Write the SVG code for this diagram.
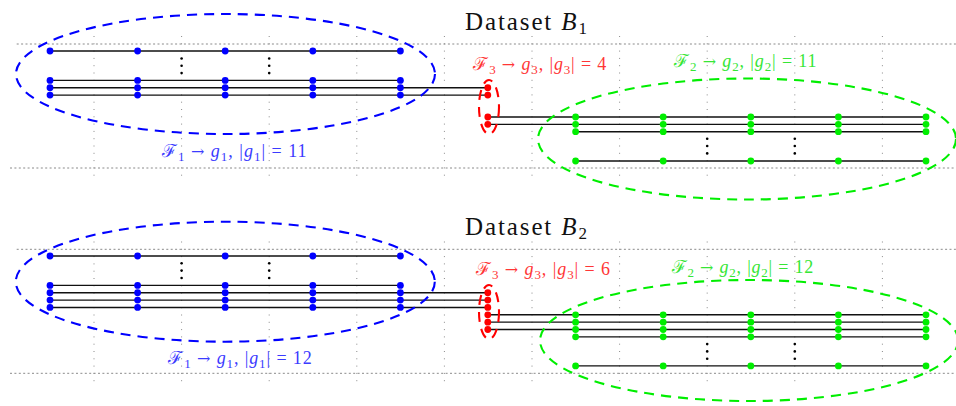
<svg xmlns="http://www.w3.org/2000/svg" width="956" height="406" viewBox="0 0 956 406">
<style>
.hg{stroke:#8a8a8a;stroke-width:1;stroke-dasharray:2 2.4;fill:none}
.vg{stroke:#8a8a8a;stroke-width:1;stroke-dasharray:1 6.3;fill:none}
.ln{stroke:#111;stroke-width:1.4;fill:none}
.el{fill:none;stroke-width:2.1;stroke-dasharray:10 7}
.b{fill:#0000ff}.r{fill:#ff0000}.g{fill:#00ee00}
.eb{stroke:#0000ff}.er{stroke:#ff0000}.eg{stroke:#00ee00}
.dt{fill:#000}
.ttl{font-family:"Liberation Serif","DejaVu Serif",serif;font-size:25px;fill:#111}
.m{font-family:"Liberation Serif","DejaVu Serif",serif;font-size:18px}
.ar{font-family:"DejaVu Serif",serif;font-size:16px}
.it{font-style:italic}
.sb{font-size:13px}
.tb{fill:#3b3bff}.tr{fill:#ff3636}.tg{fill:#36e636}
</style>
<defs>
<circle id="nd" r="3.4"/>
<circle id="sd" r="1.3"/>
</defs>

<g id="grid">
<line class="hg" x1="16.7" y1="44" x2="956" y2="44"/>
<line class="hg" x1="10" y1="168" x2="956" y2="168"/>
<line class="hg" x1="16.7" y1="249.3" x2="956" y2="249.3"/>
<line class="hg" x1="10" y1="373.3" x2="956" y2="373.3"/>
<g id="vgrid-top">
<line class="vg" x1="94" y1="36" x2="94" y2="179"/>
<line class="vg" x1="181.6" y1="36" x2="181.6" y2="179"/>
<line class="vg" x1="269.2" y1="36" x2="269.2" y2="179"/>
<line class="vg" x1="356.8" y1="36" x2="356.8" y2="179"/>
<line class="vg" x1="444.4" y1="36" x2="444.4" y2="179"/>
<line class="vg" x1="532" y1="36" x2="532" y2="179"/>
<line class="vg" x1="619.6" y1="36" x2="619.6" y2="179"/>
<line class="vg" x1="707.2" y1="36" x2="707.2" y2="179"/>
<line class="vg" x1="794.8" y1="36" x2="794.8" y2="179"/>
<line class="vg" x1="882.4" y1="36" x2="882.4" y2="179"/>
</g>
<g id="vgrid-bot">
<line class="vg" x1="94" y1="241.5" x2="94" y2="384"/>
<line class="vg" x1="181.6" y1="241.5" x2="181.6" y2="384"/>
<line class="vg" x1="269.2" y1="241.5" x2="269.2" y2="384"/>
<line class="vg" x1="356.8" y1="241.5" x2="356.8" y2="384"/>
<line class="vg" x1="444.4" y1="241.5" x2="444.4" y2="384"/>
<line class="vg" x1="532" y1="241.5" x2="532" y2="384"/>
<line class="vg" x1="619.6" y1="241.5" x2="619.6" y2="384"/>
<line class="vg" x1="707.2" y1="241.5" x2="707.2" y2="384"/>
<line class="vg" x1="794.8" y1="241.5" x2="794.8" y2="384"/>
<line class="vg" x1="882.4" y1="241.5" x2="882.4" y2="384"/>
</g>
</g>

<g id="connectors">
<line class="ln" x1="50" y1="51" x2="400.4" y2="51"/>
<line class="ln" x1="50" y1="80.4" x2="400.4" y2="80.4"/>
<line class="ln" x1="50" y1="87.75" x2="487.8" y2="87.75"/>
<line class="ln" x1="50" y1="95.1" x2="487.8" y2="95.1"/>
<line class="ln" x1="487.8" y1="117" x2="926" y2="117"/>
<line class="ln" x1="487.8" y1="124.35" x2="926" y2="124.35"/>
<line class="ln" x1="575.6" y1="131.7" x2="926" y2="131.7"/>
<line class="ln" x1="575.6" y1="161" x2="926" y2="161"/>

<line class="ln" x1="50" y1="256" x2="400.4" y2="256"/>
<line class="ln" x1="50" y1="285.4" x2="400.4" y2="285.4"/>
<line class="ln" x1="50" y1="292.75" x2="487.8" y2="292.75"/>
<line class="ln" x1="50" y1="300.1" x2="487.8" y2="300.1"/>
<line class="ln" x1="50" y1="307.45" x2="487.8" y2="307.45"/>
<line class="ln" x1="487.8" y1="314.8" x2="926" y2="314.8"/>
<line class="ln" x1="487.8" y1="322.15" x2="926" y2="322.15"/>
<line class="ln" x1="487.8" y1="329.5" x2="926" y2="329.5"/>
<line class="ln" x1="575.6" y1="336.85" x2="926" y2="336.85"/>
<line class="ln" x1="575.6" y1="365.9" x2="926" y2="365.9"/>
</g>

<g id="dataset-b1">
<text class="ttl" x="465" y="30" textLength="122" lengthAdjust="spacing">Dataset <tspan class="it">B</tspan><tspan font-size="17" dy="4">1</tspan></text>

<g id="b1-g1">
<ellipse class="el eb" cx="225.5" cy="74" rx="209.5" ry="60"/>
<g class="b">
<use href="#nd" x="50" y="51"/><use href="#nd" x="137.6" y="51"/><use href="#nd" x="225.2" y="51"/><use href="#nd" x="312.8" y="51"/><use href="#nd" x="400.4" y="51"/>
<use href="#nd" x="50" y="80.4"/><use href="#nd" x="137.6" y="80.4"/><use href="#nd" x="225.2" y="80.4"/><use href="#nd" x="312.8" y="80.4"/><use href="#nd" x="400.4" y="80.4"/>
<use href="#nd" x="50" y="87.75"/><use href="#nd" x="137.6" y="87.75"/><use href="#nd" x="225.2" y="87.75"/><use href="#nd" x="312.8" y="87.75"/><use href="#nd" x="400.4" y="87.75"/>
<use href="#nd" x="50" y="95.1"/><use href="#nd" x="137.6" y="95.1"/><use href="#nd" x="225.2" y="95.1"/><use href="#nd" x="312.8" y="95.1"/><use href="#nd" x="400.4" y="95.1"/>
</g>
<g class="dt">
<use href="#sd" x="181.6" y="58.5"/><use href="#sd" x="181.6" y="65.8"/><use href="#sd" x="181.6" y="73.1"/>
<use href="#sd" x="269.2" y="58.5"/><use href="#sd" x="269.2" y="65.8"/><use href="#sd" x="269.2" y="73.1"/>
</g>
<text class="m tb" x="162" y="157" textLength="144.5" lengthAdjust="spacing">ℱ<tspan class="sb" dy="4">1</tspan><tspan dy="-4"> </tspan><tspan class="ar">→</tspan> <tspan class="it">g</tspan><tspan class="sb" dy="4">1</tspan><tspan dy="-4">, |</tspan><tspan class="it">g</tspan><tspan class="sb" dy="4">1</tspan><tspan dy="-4">| = 11</tspan></text>
</g>

<g id="b1-g3">
<ellipse class="el er" cx="489" cy="107" rx="10" ry="27"/>
<g class="r">
<use href="#nd" x="487.8" y="87.75"/><use href="#nd" x="487.8" y="95.1"/><use href="#nd" x="487.8" y="117"/><use href="#nd" x="487.8" y="124.35"/>
</g>
<text class="m tr" x="473.3" y="70" textLength="133" lengthAdjust="spacing">ℱ<tspan class="sb" dy="4">3</tspan><tspan dy="-4"> </tspan><tspan class="ar">→</tspan> <tspan class="it">g</tspan><tspan class="sb" dy="4">3</tspan><tspan dy="-4">, |</tspan><tspan class="it">g</tspan><tspan class="sb" dy="4">3</tspan><tspan dy="-4">| = 4</tspan></text>
</g>

<g id="b1-g2">
<ellipse class="el eg" cx="747" cy="139" rx="209" ry="60.5"/>
<g class="g">
<use href="#nd" x="575.6" y="117"/><use href="#nd" x="663.2" y="117"/><use href="#nd" x="750.8" y="117"/><use href="#nd" x="838.4" y="117"/><use href="#nd" x="926" y="117"/>
<use href="#nd" x="575.6" y="124.35"/><use href="#nd" x="663.2" y="124.35"/><use href="#nd" x="750.8" y="124.35"/><use href="#nd" x="838.4" y="124.35"/><use href="#nd" x="926" y="124.35"/>
<use href="#nd" x="575.6" y="131.7"/><use href="#nd" x="663.2" y="131.7"/><use href="#nd" x="750.8" y="131.7"/><use href="#nd" x="838.4" y="131.7"/><use href="#nd" x="926" y="131.7"/>
<use href="#nd" x="575.6" y="161"/><use href="#nd" x="663.2" y="161"/><use href="#nd" x="750.8" y="161"/><use href="#nd" x="838.4" y="161"/><use href="#nd" x="926" y="161"/>
</g>
<g class="dt">
<use href="#sd" x="707.2" y="138.7"/><use href="#sd" x="707.2" y="146"/><use href="#sd" x="707.2" y="153.4"/>
<use href="#sd" x="794.8" y="138.7"/><use href="#sd" x="794.8" y="146"/><use href="#sd" x="794.8" y="153.4"/>
</g>
<text class="m tg" x="674" y="67" textLength="142.5" lengthAdjust="spacing">ℱ<tspan class="sb" dy="4">2</tspan><tspan dy="-4"> </tspan><tspan class="ar">→</tspan> <tspan class="it">g</tspan><tspan class="sb" dy="4">2</tspan><tspan dy="-4">, |</tspan><tspan class="it">g</tspan><tspan class="sb" dy="4">2</tspan><tspan dy="-4">| = 11</tspan></text>
</g>
</g>

<g id="dataset-b2">
<text class="ttl" x="465" y="235" textLength="122" lengthAdjust="spacing">Dataset <tspan class="it">B</tspan><tspan font-size="17" dy="4">2</tspan></text>

<g id="b2-g1">
<ellipse class="el eb" cx="225.3" cy="281.7" rx="209.5" ry="60"/>
<g class="b">
<use href="#nd" x="50" y="256"/><use href="#nd" x="137.6" y="256"/><use href="#nd" x="225.2" y="256"/><use href="#nd" x="312.8" y="256"/><use href="#nd" x="400.4" y="256"/>
<use href="#nd" x="50" y="285.4"/><use href="#nd" x="137.6" y="285.4"/><use href="#nd" x="225.2" y="285.4"/><use href="#nd" x="312.8" y="285.4"/><use href="#nd" x="400.4" y="285.4"/>
<use href="#nd" x="50" y="292.75"/><use href="#nd" x="137.6" y="292.75"/><use href="#nd" x="225.2" y="292.75"/><use href="#nd" x="312.8" y="292.75"/><use href="#nd" x="400.4" y="292.75"/>
<use href="#nd" x="50" y="300.1"/><use href="#nd" x="137.6" y="300.1"/><use href="#nd" x="225.2" y="300.1"/><use href="#nd" x="312.8" y="300.1"/><use href="#nd" x="400.4" y="300.1"/>
<use href="#nd" x="50" y="307.45"/><use href="#nd" x="137.6" y="307.45"/><use href="#nd" x="225.2" y="307.45"/><use href="#nd" x="312.8" y="307.45"/><use href="#nd" x="400.4" y="307.45"/>
</g>
<g class="dt">
<use href="#sd" x="181.6" y="263.3"/><use href="#sd" x="181.6" y="270.6"/><use href="#sd" x="181.6" y="278"/>
<use href="#sd" x="269.2" y="263.3"/><use href="#sd" x="269.2" y="270.6"/><use href="#sd" x="269.2" y="278"/>
</g>
<text class="m tb" x="168.3" y="364" textLength="143.4" lengthAdjust="spacing">ℱ<tspan class="sb" dy="4">1</tspan><tspan dy="-4"> </tspan><tspan class="ar">→</tspan> <tspan class="it">g</tspan><tspan class="sb" dy="4">1</tspan><tspan dy="-4">, |</tspan><tspan class="it">g</tspan><tspan class="sb" dy="4">1</tspan><tspan dy="-4">| = 12</tspan></text>
</g>

<g id="b2-g3">
<ellipse class="el er" cx="489" cy="312" rx="10" ry="27"/>
<g class="r">
<use href="#nd" x="487.8" y="292.75"/><use href="#nd" x="487.8" y="300.1"/><use href="#nd" x="487.8" y="307.45"/><use href="#nd" x="487.8" y="314.8"/><use href="#nd" x="487.8" y="322.15"/><use href="#nd" x="487.8" y="329.5"/>
</g>
<text class="m tr" x="476" y="275" textLength="134" lengthAdjust="spacing">ℱ<tspan class="sb" dy="4">3</tspan><tspan dy="-4"> </tspan><tspan class="ar">→</tspan> <tspan class="it">g</tspan><tspan class="sb" dy="4">3</tspan><tspan dy="-4">, |</tspan><tspan class="it">g</tspan><tspan class="sb" dy="4">3</tspan><tspan dy="-4">| = 6</tspan></text>
</g>

<g id="b2-g2">
<ellipse class="el eg" cx="749" cy="340.5" rx="209" ry="60.5"/>
<g class="g">
<use href="#nd" x="575.6" y="314.8"/><use href="#nd" x="663.2" y="314.8"/><use href="#nd" x="750.8" y="314.8"/><use href="#nd" x="838.4" y="314.8"/><use href="#nd" x="926" y="314.8"/>
<use href="#nd" x="575.6" y="322.15"/><use href="#nd" x="663.2" y="322.15"/><use href="#nd" x="750.8" y="322.15"/><use href="#nd" x="838.4" y="322.15"/><use href="#nd" x="926" y="322.15"/>
<use href="#nd" x="575.6" y="329.5"/><use href="#nd" x="663.2" y="329.5"/><use href="#nd" x="750.8" y="329.5"/><use href="#nd" x="838.4" y="329.5"/><use href="#nd" x="926" y="329.5"/>
<use href="#nd" x="575.6" y="336.85"/><use href="#nd" x="663.2" y="336.85"/><use href="#nd" x="750.8" y="336.85"/><use href="#nd" x="838.4" y="336.85"/><use href="#nd" x="926" y="336.85"/>
<use href="#nd" x="575.6" y="365.9"/><use href="#nd" x="663.2" y="365.9"/><use href="#nd" x="750.8" y="365.9"/><use href="#nd" x="838.4" y="365.9"/><use href="#nd" x="926" y="365.9"/>
</g>
<g class="dt">
<use href="#sd" x="707.2" y="344.1"/><use href="#sd" x="707.2" y="351.4"/><use href="#sd" x="707.2" y="358.7"/>
<use href="#sd" x="794.8" y="344.1"/><use href="#sd" x="794.8" y="351.4"/><use href="#sd" x="794.8" y="358.7"/>
</g>
<text class="m tg" x="671.7" y="272.5" textLength="141.6" lengthAdjust="spacing">ℱ<tspan class="sb" dy="4">2</tspan><tspan dy="-4"> </tspan><tspan class="ar">→</tspan> <tspan class="it">g</tspan><tspan class="sb" dy="4">2</tspan><tspan dy="-4">, |</tspan><tspan class="it">g</tspan><tspan class="sb" dy="4">2</tspan><tspan dy="-4">| = 12</tspan></text>
</g>
</g>
</svg>
